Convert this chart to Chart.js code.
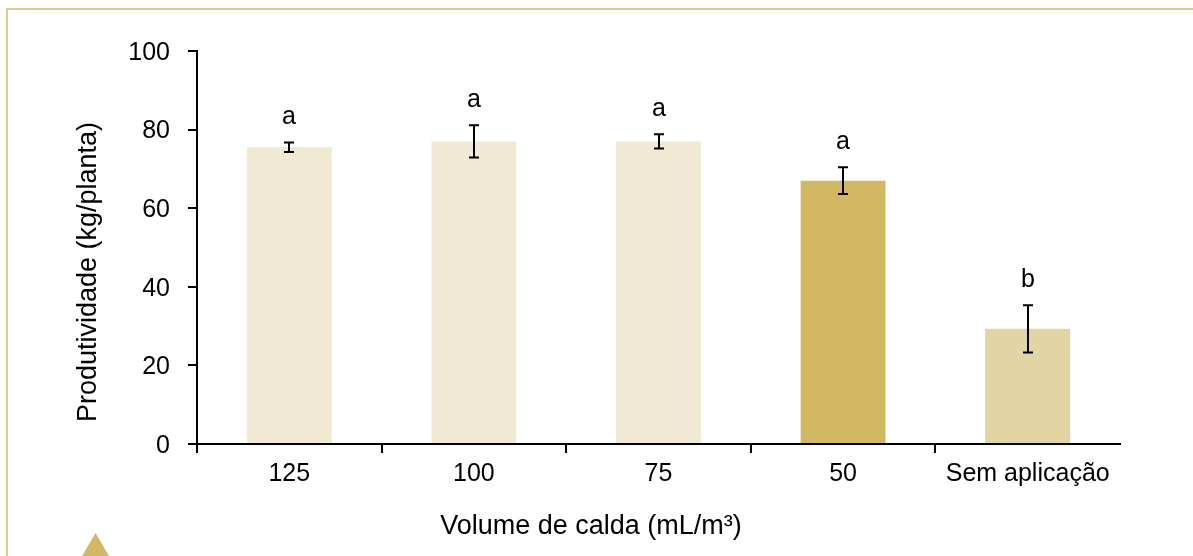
<!DOCTYPE html>
<html>
<head>
<meta charset="utf-8">
<script src="https://cdn.jsdelivr.net/npm/chart.js@4.4.0/dist/chart.umd.min.js"></script>
<style>
  html, body { margin: 0; padding: 0; background: #ffffff; }
  #wrap { width: 1193px; height: 556px; position: relative; }
</style>
</head>
<body>
<div id="wrap"><canvas id="c" width="1193" height="556"></canvas></div>
<script>
const categories = ['125', '100', '75', '50', 'Sem aplicação'];
const productivity = [75.5, 77, 77, 67, 29.3];
const errors = [1.2, 4.1, 1.8, 3.4, 6.0];
const groupLetters = ['a', 'a', 'a', 'a', 'b'];
const barColors = ['#f1e9d3', '#f1e9d3', '#f1e9d3', '#d2b863', '#e3d4a3'];
const yTicks = [0, 20, 40, 60, 80, 100];
const yTitle = 'Produtividade (kg/planta)';
const xTitle = 'Volume de calda (mL/m³)';

const FONT = '"Liberation Sans", Arial, Helvetica, sans-serif';

const decorPlugin = {
  id: 'decor',
  beforeDraw(chart) {
    const ctx = chart.ctx;
    ctx.save();
    ctx.fillStyle = '#ffffff';
    ctx.fillRect(0, 0, chart.width, chart.height);
    ctx.strokeStyle = '#dccb8c';
    ctx.lineWidth = 2;
    ctx.beginPath();
    ctx.moveTo(7, 556);
    ctx.lineTo(7, 9);
    ctx.lineTo(1193, 9);
    ctx.stroke();
    ctx.fillStyle = '#d2b863';
    ctx.beginPath();
    ctx.moveTo(95.5, 533);
    ctx.lineTo(109.5, 557);
    ctx.lineTo(81.5, 557);
    ctx.closePath();
    ctx.fill();
    ctx.restore();
  },
  afterDraw(chart) {
    const ctx = chart.ctx;
    ctx.save();
    ctx.fillStyle = '#000000';
    ctx.font = '27px ' + FONT;
    ctx.textAlign = 'center';
    ctx.textBaseline = 'middle';
    ctx.fillText(xTitle, 591, 527);
    ctx.translate(89, 272);
    ctx.rotate(-Math.PI / 2);
    ctx.fillText(yTitle, 0, 0);
    ctx.restore();
  }
};

const errorPlugin = {
  id: 'errbars',
  afterDatasetsDraw(chart) {
    const ctx = chart.ctx;
    const meta = chart.getDatasetMeta(0);
    const ys = chart.scales.y;
    ctx.save();
    ctx.strokeStyle = '#000000';
    ctx.lineWidth = 2;
    ctx.fillStyle = '#000000';
    ctx.font = '25px ' + FONT;
    ctx.textAlign = 'center';
    ctx.textBaseline = 'middle';
    meta.data.forEach((bar, i) => {
      const x = Math.round(bar.x);
      const yTop = ys.getPixelForValue(productivity[i] + errors[i]);
      const yBot = ys.getPixelForValue(productivity[i] - errors[i]);
      ctx.beginPath();
      ctx.moveTo(x, yTop);
      ctx.lineTo(x, yBot);
      ctx.moveTo(x - 5, yTop);
      ctx.lineTo(x + 5, yTop);
      ctx.moveTo(x - 5, yBot);
      ctx.lineTo(x + 5, yBot);
      ctx.stroke();
      ctx.fillText(groupLetters[i], x, yTop - 25);
    });
    ctx.restore();
  }
};

new Chart(document.getElementById('c'), {
  type: 'bar',
  data: {
    labels: categories,
    datasets: [{
      data: productivity,
      backgroundColor: barColors,
      borderWidth: 0,
      categoryPercentage: 1.0,
      barPercentage: 0.46
    }]
  },
  options: {
    responsive: false,
    animation: false,
    devicePixelRatio: 1,
    layout: { padding: { left: 0, right: 73, top: 51, bottom: 0 } },
    plugins: { legend: { display: false }, tooltip: { enabled: false } },
    scales: {
      x: {
        afterFit(scale) { scale.height = 112; },
        grid: {
          offset: true,
          drawOnChartArea: false,
          drawTicks: true,
          tickLength: 9,
          lineWidth: 2,
          color: (c) => c.type === 'tick' ? '#000000' : 'rgba(0,0,0,0)'
        },
        border: { display: true, color: '#000000', width: 2 },
        ticks: { color: '#000000', font: { family: FONT, size: 25 }, padding: 6, maxRotation: 0, autoSkip: false }
      },
      y: {
        min: 0,
        max: 100,
        afterFit(scale) { scale.width = 197; },
        afterBuildTicks(scale) { scale.ticks = yTicks.map(v => ({ value: v })); },
        grid: {
          drawOnChartArea: false,
          drawTicks: true,
          tickLength: 9,
          lineWidth: 2,
          color: '#000000'
        },
        border: { display: true, color: '#000000', width: 2 },
        ticks: { color: '#000000', font: { family: FONT, size: 25 }, padding: 18, labelOffset: 2 }
      }
    }
  },
  plugins: [decorPlugin, errorPlugin]
});
</script>
</body>
</html>
